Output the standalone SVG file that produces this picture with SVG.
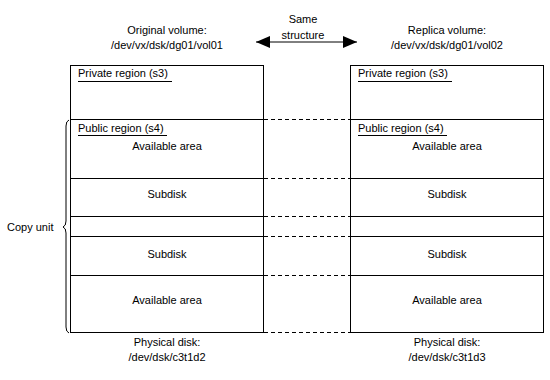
<svg xmlns="http://www.w3.org/2000/svg" width="550" height="380" viewBox="0 0 550 380">
<defs>
<marker id="ah" markerWidth="14" markerHeight="12" refX="14" refY="6" orient="auto-start-reverse" markerUnits="userSpaceOnUse"><path d="M0,0 L14,6 L0,12 z" fill="#000"/></marker>
<style>
text{font-family:"Liberation Sans",Arial,sans-serif;font-size:11px;fill:#000}
.c{text-anchor:middle}
.box{fill:#fff;stroke:#000;stroke-width:1}
.ln{stroke:#000;stroke-width:1;fill:none}
.ds{stroke:#000;stroke-width:1;stroke-dasharray:4,3;fill:none}
</style>
</defs>
<rect width="550" height="380" fill="#fff"/>
<g id="connectors">
<line class="ln" x1="256" y1="42" x2="357" y2="42" marker-start="url(#ah)" marker-end="url(#ah)"/>
<line class="ds" x1="264" y1="119.5" x2="350" y2="119.5"/>
<line class="ds" x1="264" y1="178.5" x2="350" y2="178.5"/>
<line class="ds" x1="264" y1="216.5" x2="350" y2="216.5"/>
<line class="ds" x1="264" y1="236.5" x2="350" y2="236.5"/>
<line class="ds" x1="264" y1="275.5" x2="350" y2="275.5"/>
<line class="ds" x1="264" y1="332.5" x2="350" y2="332.5"/>
</g>
<g id="same-structure">
<text class="c" x="303" y="23">Same</text>
<text class="c" x="303" y="39">structure</text>
</g>
<g id="original">
<text class="c" x="167" y="34">Original volume:</text>
<text class="c" x="167" y="49">/dev/vx/dsk/dg01/vol01</text>
<rect class="box" x="70.5" y="65.5" width="193" height="267"/>
<line class="ln" x1="70" y1="119.5" x2="264" y2="119.5"/>
<line class="ln" x1="70" y1="178.5" x2="264" y2="178.5"/>
<line class="ln" x1="70" y1="216.5" x2="264" y2="216.5"/>
<line class="ln" x1="70" y1="236.5" x2="264" y2="236.5"/>
<line class="ln" x1="70" y1="275.5" x2="264" y2="275.5"/>
<text x="78" y="77">Private region (s3)</text>
<line class="ln" x1="78" y1="81.5" x2="172" y2="81.5"/>
<text x="78" y="132">Public region (s4)</text>
<line class="ln" x1="78" y1="135.5" x2="167" y2="135.5"/>
<text class="c" x="167" y="150">Available area</text>
<text class="c" x="167" y="198">Subdisk</text>
<text class="c" x="167" y="258">Subdisk</text>
<text class="c" x="167" y="304">Available area</text>
<text class="c" x="167" y="346">Physical disk:</text>
<text class="c" x="167" y="361">/dev/dsk/c3t1d2</text>
</g>
<g id="replica">
<text class="c" x="447" y="34">Replica volume:</text>
<text class="c" x="447" y="49">/dev/vx/dsk/dg01/vol02</text>
<rect class="box" x="350.5" y="65.5" width="193" height="267"/>
<line class="ln" x1="350" y1="119.5" x2="544" y2="119.5"/>
<line class="ln" x1="350" y1="178.5" x2="544" y2="178.5"/>
<line class="ln" x1="350" y1="216.5" x2="544" y2="216.5"/>
<line class="ln" x1="350" y1="236.5" x2="544" y2="236.5"/>
<line class="ln" x1="350" y1="275.5" x2="544" y2="275.5"/>
<text x="358" y="77">Private region (s3)</text>
<line class="ln" x1="358" y1="81.5" x2="452" y2="81.5"/>
<text x="358" y="132">Public region (s4)</text>
<line class="ln" x1="358" y1="135.5" x2="447" y2="135.5"/>
<text class="c" x="447" y="150">Available area</text>
<text class="c" x="447" y="198">Subdisk</text>
<text class="c" x="447" y="258">Subdisk</text>
<text class="c" x="447" y="304">Available area</text>
<text class="c" x="447" y="346">Physical disk:</text>
<text class="c" x="447" y="361">/dev/dsk/c3t1d3</text>
</g>
<g id="copy-unit">
<path class="ln" d="M69,120 Q66,121 66,126 L66,221 Q66,226 63,227 Q66,228 66,233 L66,327 Q66,332 69,333"/>
<text x="7" y="231">Copy unit</text>
</g>
</svg>
